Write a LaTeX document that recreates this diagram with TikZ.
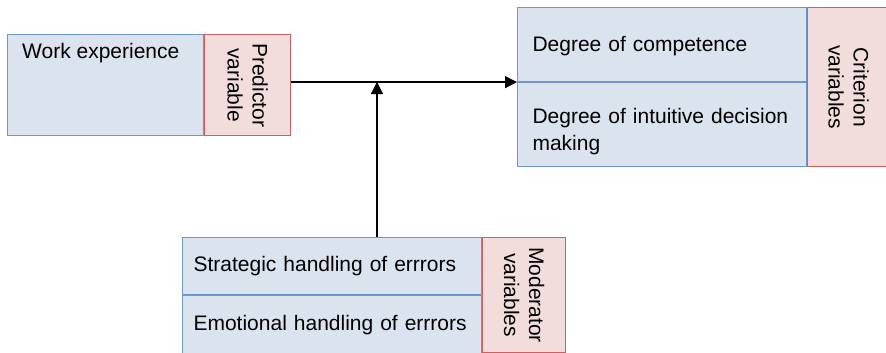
\documentclass[tikz,border=0pt]{standalone}
\usepackage{fontspec}
\setmainfont{Liberation Sans}
\usepackage{tikz}
\usetikzlibrary{arrows.meta,positioning}
\definecolor{boxblue}{RGB}{218,227,238}
\definecolor{lineblue}{RGB}{108,150,205}
\definecolor{boxred}{RGB}{242,220,220}
\definecolor{linered}{RGB}{208,96,96}
\tikzset{
	varbox/.style={draw=lineblue, fill=boxblue, line width=1.1pt, inner xsep=15pt, inner ysep=0pt, text width=#1, align=left, anchor=north west, font=\fontsize{21}{27}\selectfont},
	kindbox/.style={draw=linered, fill=boxred, line width=1.1pt, inner sep=0pt, anchor=north west},
	kindlbl/.style={rotate=-90, align=center, inner sep=0pt, font=\fontsize{21}{25}\selectfont},
	arr/.style={line width=1.3pt, -{Triangle[length=12pt,width=12pt]}}
}
\begin{document}
\begin{tikzpicture}[x=1pt, y=-1pt]
	\useasboundingbox (0,0) rectangle (886,353);
	% Predictor
	\node[varbox=166pt, minimum height=101pt] at (7,34) (work) {};
	\node[anchor=base west, inner sep=0pt, font=\fontsize{21}{27}\selectfont] at ([xshift=15pt,yshift=-25pt]work.north west) (worktxt) {Work experience};
	\node[kindbox, minimum width=86pt, minimum height=101pt] at (work.north east) (pred) {};
	\node[kindlbl] at (pred.center) (predtxt) {Predictor\\variable};
	% Criterion
	\node[varbox=259pt, minimum height=74pt] at (517,7) (comp) {\rule{0pt}{19pt}Degree of competence};
	\node[varbox=259pt, minimum height=84pt] at (comp.south west) (intu) {\rule{0pt}{29pt}Degree of intuitive decision\\making};
	\node[kindbox, minimum width=82pt, minimum height=159pt] at (comp.north east) (crit) {};
	\node[kindlbl] at (crit.center) (crittxt) {Criterion\\variables};
	% Moderator
	\node[varbox=277pt, inner xsep=11pt, minimum height=57pt] at (182,237) (strat) {Strategic handling of errrors};
	\node[varbox=277pt, inner xsep=11pt, minimum height=58pt] at (strat.south west) (emot) {Emotional handling of errrors};
	\node[kindbox, minimum width=83pt, minimum height=115pt] at (strat.north east) (mod) {};
	\node[kindlbl] at (mod.center) (modtxt) {Moderator\\variables};
	% Arrows
	\coordinate (meet) at (377,82);
	\draw[arr] (pred.east |- comp.south west) -- (comp.south west);
	\draw[arr] (strat.north -| meet) -- (meet);
\end{tikzpicture}
\end{document}
